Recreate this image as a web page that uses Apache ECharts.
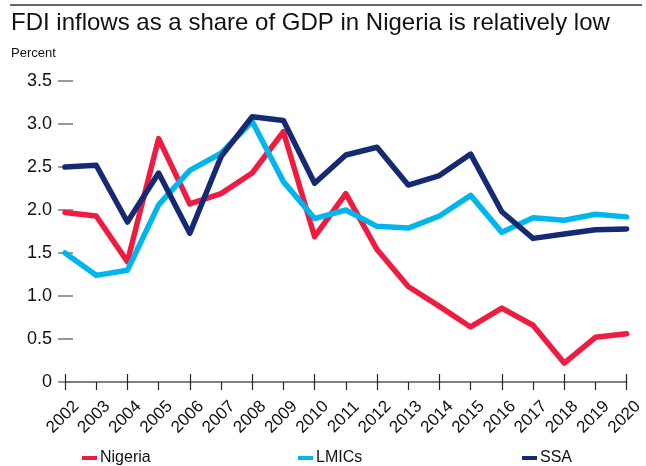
<!DOCTYPE html>
<html>
<head>
<meta charset="utf-8">
<script src="https://cdn.jsdelivr.net/npm/echarts@6/dist/echarts.min.js"></script>
<style>
  html, body { margin: 0; padding: 0; background: #fff; }
  #chart { width: 646px; height: 466px; }
</style>
</head>
<body>
<div id="chart"></div>
<script>
// FDI inflows, percent of GDP
const years = ['2002','2003','2004','2005','2006','2007','2008','2009','2010','2011',
               '2012','2013','2014','2015','2016','2017','2018','2019','2020'];
const nigeria = [1.97,1.93,1.40,2.83,2.07,2.19,2.43,2.91,1.69,2.19,1.54,1.11,0.88,0.64,0.86,0.66,0.22,0.52,0.56];
const lmics   = [1.50,1.24,1.30,2.06,2.46,2.66,3.03,2.33,1.90,2.00,1.81,1.79,1.93,2.17,1.74,1.91,1.88,1.95,1.92];
const ssa     = [2.50,2.52,1.86,2.43,1.73,2.62,3.085,3.04,2.31,2.64,2.73,2.29,2.40,2.65,1.98,1.67,1.72,1.77,1.78];
const yTicks  = { min: 0, max: 3.5, step: 0.5 };

const FONT = 'Liberation Sans, Arial, sans-serif';
const colors = { nigeria: '#EE1C40', lmics: '#00B6EC', ssa: '#152A73' };

const chart = echarts.init(document.getElementById('chart'), null, { renderer: 'canvas' });

function lineSeries(name, data, color) {
  return {
    name: name,
    type: 'line',
    data: data,
    symbol: 'none',
    smooth: false,
    lineStyle: { color: color, width: 5.5, cap: 'round', join: 'round' },
    itemStyle: { color: color },
    z: 3
  };
}

function legendAt(name, left) {
  return {
    data: [name],
    left: left,
    top: 450,
    icon: 'rect',
    itemWidth: 15,
    itemHeight: 4,
    itemGap: 0,
    textStyle: { fontFamily: FONT, fontSize: 16, color: '#111', padding: [0, 0, 0, -2] },
    padding: 0
  };
}

const baseX = {
  type: 'category',
  data: years,
  boundaryGap: false,
  position: 'bottom',
  axisLine: { show: true, lineStyle: { color: '#777', width: 1.5 } },
  splitLine: { show: false }
};

chart.setOption({
  animation: false,
  backgroundColor: '#fff',
  graphic: [
    { type: 'line', shape: { x1: 10, y1: 5, x2: 642, y2: 5 }, style: { stroke: '#666', lineWidth: 2 } }
  ],
  title: [
    { text: 'FDI inflows as a share of GDP in Nigeria is relatively low', left: 6, top: 6,
      textStyle: { fontFamily: FONT, fontSize: 24, fontWeight: 'normal', color: '#111' } },
    { text: 'Percent', left: 6, top: 42,
      textStyle: { fontFamily: FONT, fontSize: 13, fontWeight: 'normal', color: '#111' } }
  ],
  legend: [
    legendAt('Nigeria', 82),
    legendAt('LMICs', 298),
    legendAt('SSA', 522)
  ],
  grid: { left: 65, right: 17, top: 81, bottom: 84, containLabel: false },
  xAxis: [
    Object.assign({}, baseX, {
      axisTick: { show: true, inside: false, length: 8, lineStyle: { color: '#222', width: 1.2 } },
      axisLabel: { show: true, rotate: 45, margin: 33, align: 'center', verticalAlign: 'middle',
                   padding: [0, 6, 6, 0],
                   fontFamily: FONT, fontSize: 17, color: '#111', interval: 0 }
    }),
    Object.assign({}, baseX, {
      axisTick: { show: true, inside: true, length: 8, lineStyle: { color: '#222', width: 1.2 } },
      axisLabel: { show: false }
    })
  ],
  yAxis: {
    type: 'value',
    min: yTicks.min,
    max: yTicks.max,
    interval: yTicks.step,
    offset: 7,
    axisLine: { show: false },
    axisTick: { show: true, inside: true, length: 15, lineStyle: { color: '#777', width: 1.5 } },
    splitLine: { show: false },
    axisLabel: {
      margin: 6,
      fontFamily: FONT,
      fontSize: 18,
      color: '#111',
      formatter: v => (v === 0 ? '0' : v.toFixed(1))
    }
  },
  series: [
    lineSeries('Nigeria', nigeria, colors.nigeria),
    lineSeries('LMICs', lmics, colors.lmics),
    lineSeries('SSA', ssa, colors.ssa)
  ]
});
</script>
</body>
</html>
